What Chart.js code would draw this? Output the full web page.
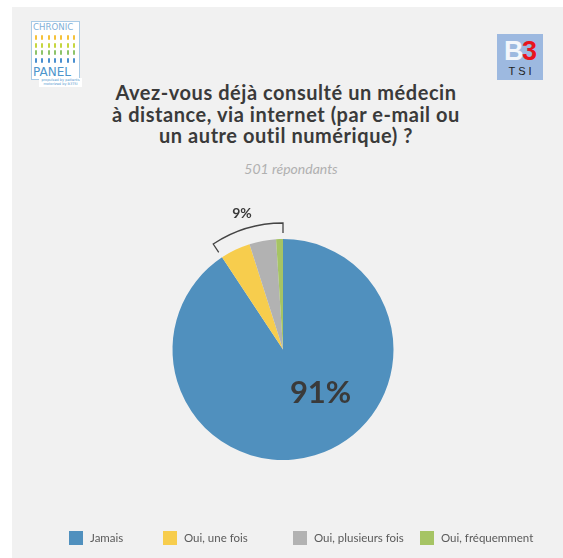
<!DOCTYPE html>
<html>
<head>
<meta charset="utf-8">
<script src="https://cdn.jsdelivr.net/npm/chart.js@4/dist/chart.umd.min.js"></script>
<style>
  html, body { margin: 0; padding: 0; background: #ffffff; }
  #wrap { position: relative; width: 563px; height: 558px; overflow: hidden; }
  #panel { position: absolute; left: 12px; top: 7px; right: 0; bottom: 0; background: #f1f1f1; }
  #c { position: absolute; left: 0; top: 0; }
  .title { position: absolute; left: 0; width: 572px; text-align: center; font-family: Lato, "Open Sans", sans-serif; font-weight: bold; font-size: 20px; letter-spacing: 0.55px; line-height: 21.5px; color: #3a3a3a; top: 82px; }
  .sub { position: absolute; left: 0; width: 582px; text-align: center; font-family: Lato, sans-serif; font-style: italic; font-size: 14px; color: #b0b0b0; top: 160px; }
  .leg { position: absolute; top: 531px; height: 14px; font-family: Lato, sans-serif; font-size: 11.5px; color: #5a5a5a; }
  .leg .sw { position: absolute; left: 0; top: 0; width: 14px; height: 14px; }
  .leg .tx { position: absolute; top: -1px; white-space: nowrap; line-height: 16px; }
  #cp { position: absolute; left: 31px; top: 21px; width: 49px; height: 59px; background: #fff; border: 1px solid #a9cbe6; box-sizing: border-box; font-family: "DejaVu Sans", sans-serif; }
  #cp .t1 { position: absolute; left: 1px; top: 0px; font-size: 8.6px; color: #7fb0d8; }
  #cp .t2 { position: absolute; left: 1px; top: 43px; font-size: 12px; color: #4d95cc; }
  #cp .f { position: absolute; width: 2px; height: 5px; border-radius: 1px; }
  #cpsub { position: absolute; left: 39px; top: 78px; width: 43px; height: 9px; background: #fff; font-family: "DejaVu Sans", sans-serif; font-size: 3.5px; line-height: 4.3px; color: #5a9bd0; text-align: center; white-space: nowrap; }
  #b3 { position: absolute; left: 497px; top: 34px; width: 46px; height: 46px; background: #9db9e0; font-family: "Liberation Sans", Arial, sans-serif; }
  #b3 .b { position: absolute; left: 7px; top: 2px; font-size: 27px; font-weight: bold; color: #f3f6fb; }
  #b3 .n { position: absolute; left: 25px; top: 2px; font-size: 27px; font-weight: bold; color: #e8141c; }
  #b3 .s { position: absolute; left: 0; width: 46px; text-align: center; top: 31px; font-size: 11px; color: #222; letter-spacing: 3px; text-indent: 3px; }
</style>
</head>
<body>
<div id="wrap">
  <div id="panel"></div>
  <div id="cp"><div class="t1">CHRONIC</div><div class="t2">PANEL</div></div>
  <div id="cpsub">propulsed by patients<br>motorized by B3TSI</div>
  <div id="b3"><span class="b">B</span><span class="n">3</span><div class="s">TSI</div></div>
  <div class="title">Avez-vous déjà consulté un médecin<br>à distance, via internet (par e-mail ou<br>un autre outil numérique) ?</div>
  <div class="sub">501 répondants</div>
  <canvas id="c" width="563" height="558"></canvas>
  <div id="legend"></div>
</div>
<script>
// ---- data ----
const categories = ['Jamais', 'Oui, une fois', 'Oui, plusieurs fois', 'Oui, fréquemment'];
const values = [90.7, 4.4, 3.9, 1.0];
const colors = ['#5090be', '#f7cd4d', '#b2b2b2', '#a6c464'];
const legendX = [69, 163, 293, 420];
const figureColors = ['#f5c23a', '#c6d640', '#8dc36a', '#4a8fcf'];

// small logo figures
(function () {
  const cp = document.getElementById('cp');
  for (let r = 0; r < 4; r++) {
    for (let k = 0; k < 7; k++) {
      const d = document.createElement('div');
      d.className = 'f';
      d.style.left = (3 + k * 6.3) + 'px';
      d.style.top = (13 + r * 7.5) + 'px';
      d.style.background = figureColors[r];
      cp.appendChild(d);
    }
  }
})();

// HTML legend built from the data arrays
(function () {
  const lg = document.getElementById('legend');
  categories.forEach((c, i) => {
    const d = document.createElement('div');
    d.className = 'leg';
    d.style.left = legendX[i] + 'px';
    d.innerHTML = '<div class="sw" style="background:' + colors[i] + '"></div><div class="tx" style="left:21px">' + c + '</div>';
    lg.appendChild(d);
  });
})();

const total = values.reduce((a, b) => a + b, 0);
const mainPct = Math.round(values[0] / total * 100);
const restPct = Math.round(values.slice(1).reduce((a, b) => a + b, 0) / total * 100);

const labelsPlugin = {
  id: 'labelsPlugin',
  afterDatasetsDraw(chart) {
    const ctx = chart.ctx;
    const arcs = chart.getDatasetMeta(0).data;
    const a0 = arcs[0];
    const cx = a0.x, cy = a0.y, R = a0.outerRadius;
    // bracket over the small slices
    const sA = arcs[1].startAngle, eA = arcs[arcs.length - 1].endAngle;
    const rb = R + 16, rt = R + 6;
    ctx.save();
    ctx.strokeStyle = '#444';
    ctx.lineWidth = 1.3;
    ctx.beginPath();
    ctx.moveTo(cx + rt * Math.cos(sA), cy + rt * Math.sin(sA));
    ctx.lineTo(cx + rb * Math.cos(sA), cy + rb * Math.sin(sA));
    ctx.arc(cx, cy, rb, sA, eA);
    ctx.lineTo(cx + rt * Math.cos(eA), cy + rt * Math.sin(eA));
    ctx.stroke();
    // 9% label
    const mA = (sA + eA) / 2;
    ctx.fillStyle = '#3a3a3a';
    ctx.textAlign = 'center';
    ctx.textBaseline = 'middle';
    ctx.font = 'bold 14px Lato, sans-serif';
    ctx.fillText(restPct + '%', cx + (R + 32) * Math.cos(mA), cy + (R + 32) * Math.sin(mA));
    // 91% label
    ctx.font = 'bold 31px Lato, sans-serif';
    ctx.fillText(mainPct + '%', cx + 0.34 * R, cy + 0.39 * R);
    ctx.restore();
  }
};

new Chart(document.getElementById('c'), {
  type: 'pie',
  data: {
    labels: categories,
    datasets: [{
      data: values,
      backgroundColor: colors,
      borderWidth: 0,
      hoverOffset: 0
    }]
  },
  options: {
    responsive: false,
    animation: false,
    events: [],
    layout: { padding: { top: 239, bottom: 98, left: 172, right: 169 } },
    plugins: {
      legend: { display: false },
      tooltip: { enabled: false },
      title: { display: false }
    }
  },
  plugins: [labelsPlugin]
});
</script>
</body>
</html>
